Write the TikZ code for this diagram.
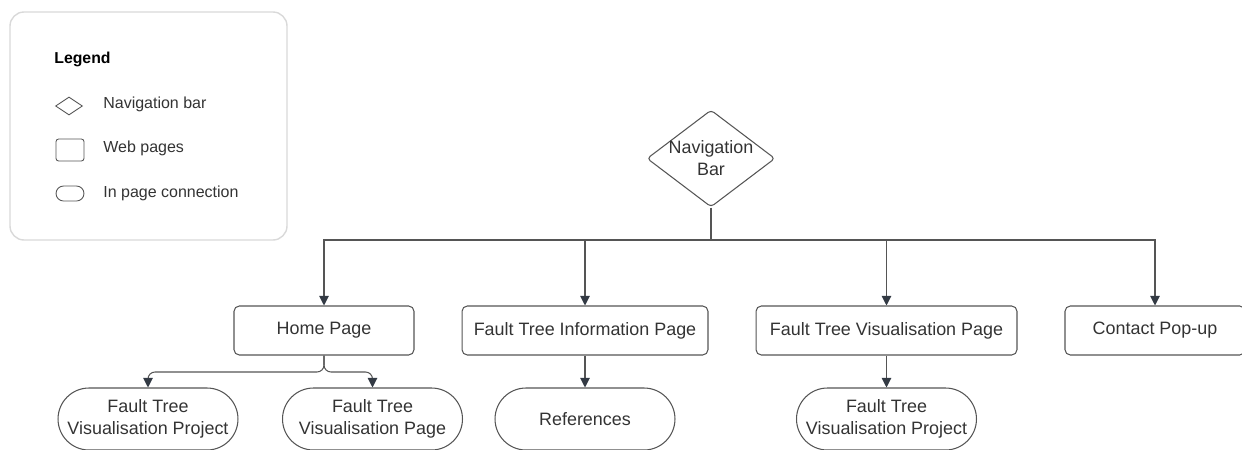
\documentclass[tikz,border=0pt]{standalone}
\usepackage{fontspec}
\setmainfont{Liberation Sans}
\usetikzlibrary{shapes.geometric,arrows.meta}
\definecolor{linegray}{HTML}{555555}
\definecolor{tipgray}{HTML}{333A44}
\definecolor{textgray}{HTML}{333333}
\definecolor{keygray}{HTML}{D9D9D9}
\tikzset{
  txt/.style={text=textgray,font=\fontsize{10.2}{12.5}\selectfont},
  page/.style={txt,draw=linegray,line width=0.6pt,rounded corners=3pt,minimum height=0.98cm,inner sep=0},
  inpage/.style={txt,draw=linegray,line width=0.6pt,rounded corners=0.62cm,minimum width=3.6cm,minimum height=1.24cm,inner sep=0,align=center},
  navbar/.style={txt,diamond,draw=linegray,line width=0.6pt,rounded corners=2pt,aspect=1.32,minimum width=2.56cm,minimum height=1.94cm,inner sep=-3pt,align=center},
  link/.style={draw=linegray,line width=0.6pt,-{Triangle[width=5.5pt,length=5.5pt,color=tipgray]}},
  keytxt/.style={text=textgray,font=\fontsize{9.1}{11}\selectfont,anchor=west,inner sep=0},
  keyshape/.style={draw=linegray,line width=0.5pt,inner sep=0}
}
\begin{document}
\begin{tikzpicture}[x=0.02cm,y=-0.02cm]
\useasboundingbox (0,0) rectangle (1242,450);
\draw[keygray,line width=0.8pt,rounded corners=8pt] (10,12) rectangle (287,240);
\node[anchor=west,inner sep=0,font=\fontsize{9}{11}\selectfont\bfseries] (legend) at (54,59) {Legend};
\node[keyshape,diamond,minimum width=0.54cm,minimum height=0.36cm] (keynav) at (69,106) {};
\node[keytxt] (keynavtxt) at (103,104) {Navigation bar};
\node[keyshape,rounded corners=1.5pt,minimum width=0.56cm,minimum height=0.44cm] (keypage) at (70,150) {};
\node[keytxt] (keypagetxt) at (103,148) {Web pages};
\node[keyshape,rounded corners=0.15cm,minimum width=0.56cm,minimum height=0.3cm] (keyconn) at (70,193.5) {};
\node[keytxt] (keyconntxt) at (103,193) {In page connection};

\node[navbar] (nav) at (711,158.5) {Navigation\\Bar};
\coordinate (bus) at (711,240);
\node[page,minimum width=3.6cm] (home) at (324,330.5) {Home Page};
\node[page,minimum width=4.92cm] (info) at (585,330.5) {Fault Tree Information Page};
\node[page,minimum width=5.22cm] (vis) at (886.5,330.5) {Fault Tree Visualisation Page};
\node[page,minimum width=3.6cm] (contact) at (1155,330.5) {Contact Pop-up};
\node[inpage] (homeproj) at (148,419) {Fault Tree\\Visualisation Project};
\node[inpage] (homevis) at (372.5,419) {Fault Tree\\Visualisation Page};
\node[inpage] (refs) at (585,419) {References};
\node[inpage] (visproj) at (886.5,419) {Fault Tree\\Visualisation Project};
\coordinate (split) at (324,372);

\draw[draw=linegray,line width=0.6pt] (nav.south) -- (bus);
\draw[link] (bus) -| (home);
\draw[link] (bus) -| (info);
\draw[link] (bus) -| (vis);
\draw[link] (bus) -| (contact);
\draw[link,rounded corners=4pt] (home.south) -- (split) -| (homeproj);
\draw[link,rounded corners=4pt] (home.south) -- (split) -| (homevis);
\draw[link] (info) -- (refs);
\draw[link] (vis.south) -- (visproj.north);
\end{tikzpicture}
\end{document}
